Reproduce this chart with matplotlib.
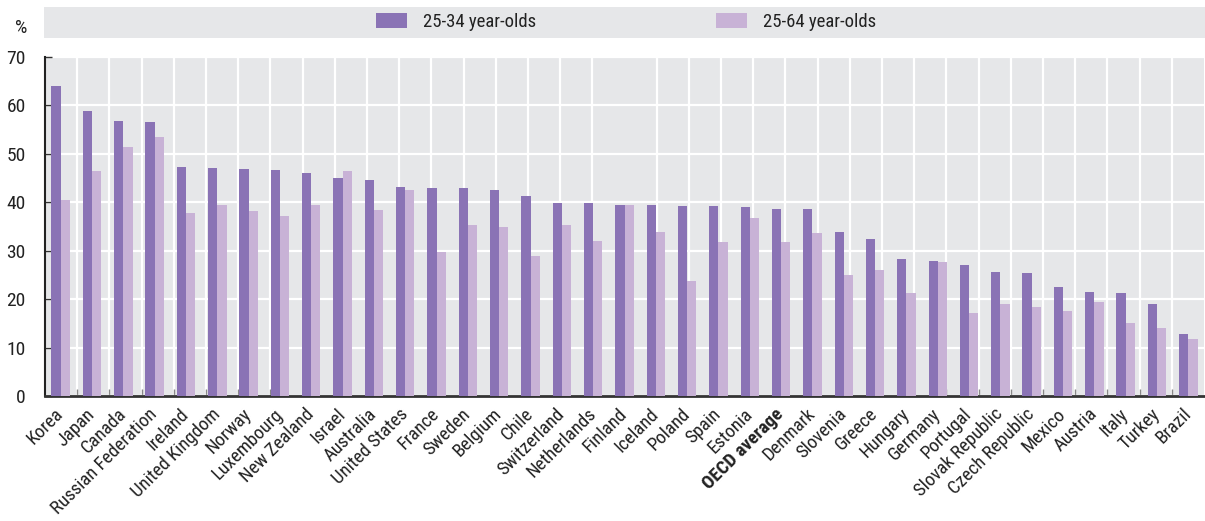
import matplotlib
matplotlib.use("Agg")
import matplotlib.pyplot as plt
from matplotlib.patches import Rectangle
from matplotlib import font_manager
import numpy as np

countries = ["Korea", "Japan", "Canada", "Russian Federation", "Ireland", "United Kingdom",
             "Norway", "Luxembourg", "New Zealand", "Israel", "Australia", "United States",
             "France", "Sweden", "Belgium", "Chile", "Switzerland", "Netherlands", "Finland",
             "Iceland", "Poland", "Spain", "Estonia", "OECD average", "Denmark", "Slovenia",
             "Greece", "Hungary", "Germany", "Portugal", "Slovak Republic", "Czech Republic",
             "Mexico", "Austria", "Italy", "Turkey", "Brazil"]
young = [64.0, 58.9, 56.8, 56.6, 47.3, 47.1, 46.9, 46.7, 46.1, 45.1, 44.7, 43.2,
         43.0, 43.0, 42.6, 41.4, 39.9, 39.9, 39.5, 39.5, 39.3, 39.3, 39.1, 38.7,
         38.7, 33.9, 32.5, 28.2, 27.8, 27.0, 25.7, 25.3, 22.6, 21.4, 21.2, 18.9, 12.9]
allages = [40.5, 46.5, 51.4, 53.5, 37.8, 39.5, 38.3, 37.2, 39.5, 46.5, 38.4, 42.6,
           29.8, 35.4, 34.8, 29.0, 35.4, 32.0, 39.5, 33.9, 23.8, 31.7, 36.8, 31.7,
           33.7, 25.0, 26.1, 21.2, 27.6, 17.2, 18.9, 18.3, 17.5, 19.4, 15.0, 14.1, 11.7]
series_names = ["25-34 year-olds", "25-64 year-olds"]
yticks = [0, 10, 20, 30, 40, 50, 60, 70]

# pick a condensed face if one is installed
fam = None
stretch = 'normal'
names = {f.name for f in font_manager.fontManager.ttflist}
for cand in ["Liberation Sans Narrow", "Roboto Condensed", "Open Sans Condensed",
             "Noto Sans Condensed", "DejaVu Sans Condensed"]:
    if cand in names:
        fam = cand
        break
if fam is None:
    for f in font_manager.fontManager.ttflist:
        if f.stretch in ('condensed', 'semi-condensed', 'extra-condensed') and 'Mono' not in f.name \
                and 'Serif' not in f.name:
            fam = f.name
            stretch = f.stretch
            break
if fam is None:
    fam = "Roboto"
plt.rcParams['font.family'] = [fam, 'DejaVu Sans']
plt.rcParams['font.stretch'] = stretch

dark = "#8A73B5"
light = "#C8B2D6"
bg = "#E6E7E9"
txt = "#222222"

W, H = 1205, 521
fig = plt.figure(figsize=(W / 100, H / 100), dpi=100)
ax = fig.add_axes([45 / W, 1 - 396 / H, (1204 - 45) / W, (396 - 57) / H])
ax.set_facecolor(bg)

n = len(countries)
x = np.arange(n)
bw = 0.295
ax.bar(x - bw / 2, young, width=bw, color=dark, zorder=3, label=series_names[0])
ax.bar(x + bw / 2, allages, width=bw, color=light, zorder=3, label=series_names[1])

ax.set_xlim(-0.5, n - 0.5)
ax.set_ylim(0, 70)
ax.set_yticks(yticks)
ax.set_yticklabels([str(v) for v in yticks], fontsize=14, color=txt)
ax.set_xticks(x)
# background grid: 36 equal divisions of the plot width
ax.set_xticks(-0.5 + np.arange(1, 36) * n / 36, minor=True)
labels = ax.set_xticklabels(countries, rotation=45, ha='right', va='center',
                            rotation_mode='anchor', fontsize=13.5, color=txt)
for lab in labels:
    if lab.get_text() == "OECD average":
        lab.set_fontweight('bold')
ax.tick_params(axis='x', which='major', length=0, pad=11)
ax.tick_params(axis='x', which='minor', direction='in', length=5, width=1, color='#888888')
ax.tick_params(axis='y', direction='in', length=5, width=1, color='#333333', pad=14)

ax.grid(True, axis='y', color='white', linewidth=1.6, zorder=1)
ax.grid(True, axis='x', which='minor', color='white', linewidth=1.6, zorder=1)
ax.set_axisbelow(True)

for s in ['top', 'right']:
    ax.spines[s].set_visible(False)
ax.spines['left'].set_color('#222222')
ax.spines['left'].set_linewidth(1.5)
ax.spines['bottom'].set_color('#333333')
ax.spines['bottom'].set_linewidth(2)

# legend band
fig.patches.append(Rectangle((44 / W, 1 - 38 / H), (W - 44) / W, 31 / H,
                             transform=fig.transFigure, facecolor=bg, edgecolor='none', zorder=0))
leg = fig.legend(ncol=2, loc='center', bbox_to_anchor=(626 / W, 1 - 22 / H), frameon=False,
                 fontsize=13.5, handlelength=1.65, handleheight=0.85, handletextpad=0.85,
                 columnspacing=9.6, labelcolor=txt, borderpad=0, borderaxespad=0)
fig.text(21 / W, 1 - 28 / H, "%", fontsize=14, color=txt, ha='center', va='center')

fig.savefig("out.png", dpi=100)
